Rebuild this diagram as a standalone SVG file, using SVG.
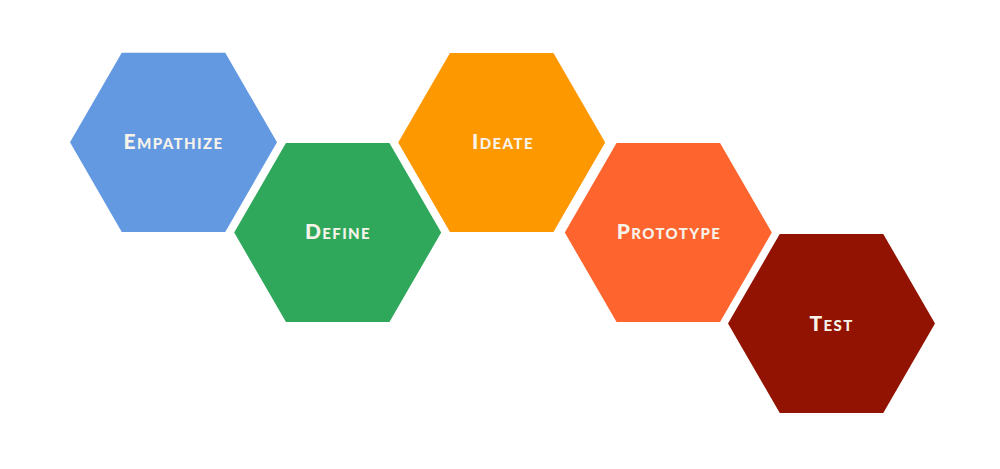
<svg xmlns="http://www.w3.org/2000/svg" width="1000" height="469" viewBox="0 0 1000 469">
<defs>
<style>
.hex{stroke:none}
.lbl{font-family:Lato,"Open Sans","Liberation Sans",sans-serif;font-weight:900;font-size:21px;font-variant:small-caps;letter-spacing:1.4px;fill:#F7F3EA;text-anchor:middle}
</style>
<polygon id="hx" points="-103.5,0 -51.75,-89.6 51.75,-89.6 103.5,0 51.75,89.6 -51.75,89.6"/>
</defs>
<rect width="1000" height="469" fill="#FFFFFF"/>
<g id="connectors"></g>
<g id="empathize">
<use href="#hx" x="173.5" y="142.3" fill="#6399E1"/>
<text class="lbl" x="173.5" y="148.5">Empathize</text>
</g>
<g id="define">
<use href="#hx" x="337.7" y="232.5" fill="#30A85C"/>
<text class="lbl" x="338" y="239">Define</text>
</g>
<g id="ideate">
<use href="#hx" x="501.7" y="142.5" fill="#FE9801"/>
<text class="lbl" x="503" y="148.5">Ideate</text>
</g>
<g id="prototype">
<use href="#hx" x="668.3" y="232.5" fill="#FE652E"/>
<text class="lbl" x="669" y="239">Prototype</text>
</g>
<g id="test">
<use href="#hx" x="831.5" y="323.5" fill="#921301"/>
<text class="lbl" x="831.5" y="330.5">Test</text>
</g>
</svg>
